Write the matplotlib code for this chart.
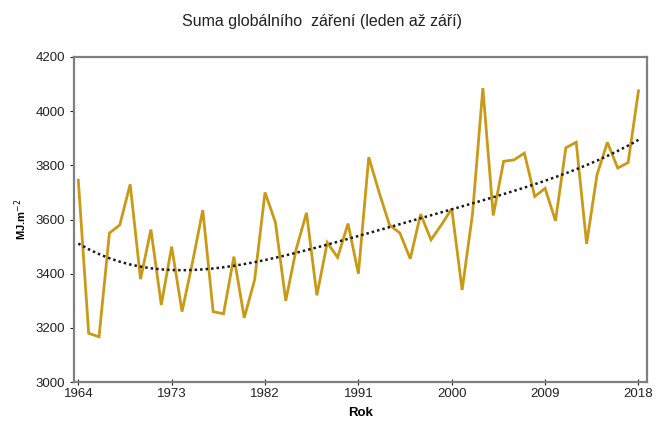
import numpy as np
import matplotlib
matplotlib.use("Agg")
import matplotlib.pyplot as plt

plt.rcParams['font.family'] = ['Liberation Sans', 'DejaVu Sans']

years = list(range(1964, 2019))
radiation = [
    3745, 3180, 3167, 3550, 3580, 3730, 3380, 3563, 3285, 3500,
    3260, 3440, 3635, 3260, 3252, 3463, 3237, 3378, 3700, 3590,
    3300, 3490, 3625, 3320, 3515, 3460, 3585, 3400, 3830, 3700,
    3580, 3550, 3455, 3620, 3525, 3580, 3640, 3340, 3620, 4085,
    3615, 3815, 3820, 3845, 3685, 3715, 3595, 3865, 3885, 3510,
    3765, 3885, 3790, 3810, 4075,
]
tick_years = [1964, 1973, 1982, 1991, 2000, 2009, 2018]
y_ticks = [3000, 3200, 3400, 3600, 3800, 4000, 4200]

title = "Suma globálního  záření (leden až září)"
x_label = "Rok"
y_label = "MJ.m$^{-2}$"

x = np.array(years, dtype=float)
y = np.array(radiation, dtype=float)

# fourth-order polynomial trend on the year index
t = x - x[0]
coef = np.polyfit(t, y, 4)
trend = np.polyval(coef, t)

fig = plt.figure(figsize=(6.62, 4.25), dpi=100)
ax = fig.add_axes([0.112, 0.101, 0.865, 0.765])

ax.plot(x, y, color='#c99a17', lw=2.0, solid_joinstyle='miter', zorder=3)
ax.plot(x, trend, color='#1a1a1a', lw=1.8, ls=(0, (1, 1.2)), zorder=4)

ax.set_xlim(1963.6, 2018.8)
ax.set_ylim(3000, 4200)
ax.set_xticks(tick_years)
ax.set_yticks(y_ticks)
ax.tick_params(axis='both', labelsize=9.5, colors='#222222', length=3,
               width=0.8, direction='out')
ax.tick_params(axis='x', direction='inout', length=5, pad=2)

for s in ax.spines.values():
    s.set_color('#808080')
    s.set_linewidth(1.6)

ax.set_xlabel(x_label, fontsize=9.5, fontweight='bold', labelpad=5)
ax.set_ylabel(y_label, fontsize=8, fontweight='bold', labelpad=5)

fig.text(0.486, 0.95, title, ha='center', va='center', fontsize=11.5,
         color='#222222')

fig.savefig("out.png", dpi=100)
